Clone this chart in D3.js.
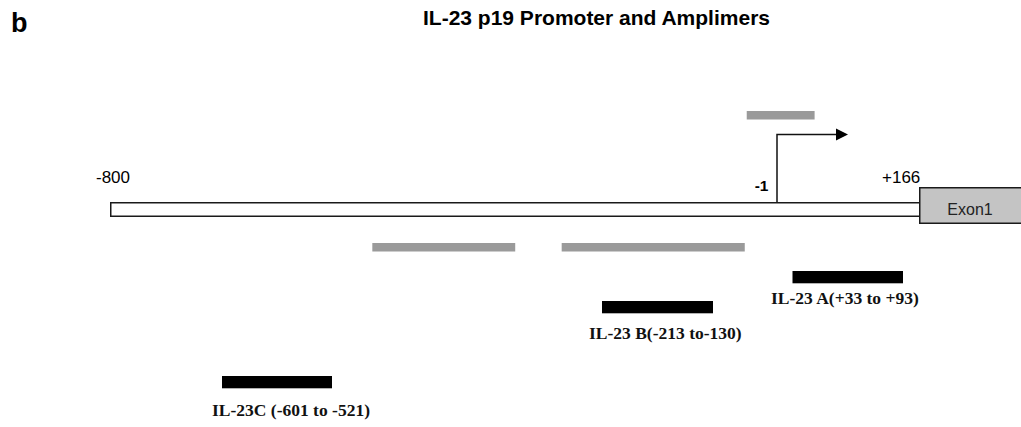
<!DOCTYPE html>
<html>
<head>
<meta charset="utf-8">
<script src="https://cdn.jsdelivr.net/npm/d3@7"></script>
<style>
  html, body { margin: 0; padding: 0; background: #fff; }
  svg { display: block; }
  .sans { font-family: Arial, "Liberation Sans", Helvetica, sans-serif; }
  .serif { font-family: "Times New Roman", "Liberation Serif", Times, serif; font-weight: bold; }
</style>
</head>
<body>
<svg id="map" width="1021" height="427"></svg>
<script>
// Promoter landmarks (bp relative to the transcription start site)
const promoterStart = -800;
const promoterEnd = 166;
const tss = -1;
const promoterLabels = ["-800", "+166"];
const tssLabel = "-1";
const exonLabel = "Exon1";

// qPCR amplimers (black bars)
const ampNames = ["IL-23 A", "IL-23 B", "IL-23C"];
const ampStart = [33, -213, -601];
const ampEnd = [93, -130, -521];
const ampLabels = ["IL-23 A(+33 to +93)", "IL-23 B(-213 to-130)", "IL-23C (-601 to -521)"];

// Additional regions (grey bars)
const greyStart = [-475, -259, -62];
const greyEnd = [-312, -66, 45];

const svg = d3.select("#map");
const W = 1021;

// The map is schematic, not to scale: each landmark gets its own place on the track
const landmarks = [promoterStart, ampStart[2], ampEnd[2], ampStart[1], ampEnd[1], tss, ampStart[0], ampEnd[0], promoterEnd];
const landmarkPx = [110, 222, 332, 602, 713, 777, 792.5, 903, 919];
const x = d3.scaleLinear().domain(landmarks).range(landmarkPx);

// Layout rows
const track = { y: 202.75, h: 13.5 };
const exon = { y: 187.75, h: 35.5 };
const greyRows = [243, 243, 111];
const greyH = 8.5;
const ampRows = [271, 301, 376];
const ampH = 12.3;
const ampLabelY = [303.5, 339, 416];
const ampLabelDx = [-21.5, -13, -10];

// Panel letter and title
svg.append("text").attr("class", "sans")
  .attr("x", 11).attr("y", 31.5)
  .attr("font-size", 27).attr("font-weight", "bold")
  .text("b");

svg.append("text").attr("class", "sans")
  .attr("x", 423).attr("y", 25)
  .attr("font-size", 21).attr("font-weight", "bold")
  .text("IL-23 p19 Promoter and Amplimers");

// Grey regions
svg.append("g").selectAll("rect")
  .data(d3.range(greyStart.length))
  .join("rect")
  .attr("x", i => x(greyStart[i]))
  .attr("width", i => x(greyEnd[i]) - x(greyStart[i]))
  .attr("y", i => greyRows[i])
  .attr("height", greyH)
  .attr("fill", "#9a9a9a");

// Promoter track
svg.append("rect")
  .attr("x", x(promoterStart) + 0.75)
  .attr("y", track.y)
  .attr("width", x(promoterEnd) - x(promoterStart))
  .attr("height", track.h)
  .attr("fill", "#fff")
  .attr("stroke", "#1a1a1a")
  .attr("stroke-width", 1.5);

// Exon 1
svg.append("rect")
  .attr("x", x(promoterEnd) + 0.75)
  .attr("y", exon.y)
  .attr("width", W + 4 - x(promoterEnd))
  .attr("height", exon.h)
  .attr("fill", "#c4c4c4")
  .attr("stroke", "#1a1a1a")
  .attr("stroke-width", 1.5);

svg.append("text").attr("class", "sans")
  .attr("x", 970).attr("y", 215)
  .attr("text-anchor", "middle")
  .attr("font-size", 16)
  .attr("fill", "#222")
  .text(exonLabel);

// Transcription start arrow
const tx = x(tss);
svg.append("path")
  .attr("d", `M${tx},${track.y - 0.75} V134.5 H837`)
  .attr("fill", "none")
  .attr("stroke", "#111")
  .attr("stroke-width", 1.5);
svg.append("path")
  .attr("d", `M836,128.5 L848,134.5 L836,140.5 Z`)
  .attr("fill", "#000");

svg.append("text").attr("class", "sans")
  .attr("x", tx - 8.5).attr("y", 190.5)
  .attr("text-anchor", "end")
  .attr("font-size", 15.5).attr("font-weight", "bold")
  .text(tssLabel);

// Promoter end labels
svg.append("text").attr("class", "sans")
  .attr("x", x(promoterStart) - 14).attr("y", 182.5)
  .attr("font-size", 17)
  .text(promoterLabels[0]);
svg.append("text").attr("class", "sans")
  .attr("x", x(promoterEnd) - 37).attr("y", 182.5)
  .attr("font-size", 17)
  .text(promoterLabels[1]);

// Amplimers
const amp = svg.append("g");
amp.selectAll("rect")
  .data(d3.range(ampNames.length))
  .join("rect")
  .attr("x", i => x(ampStart[i]))
  .attr("width", i => x(ampEnd[i]) - x(ampStart[i]))
  .attr("y", i => ampRows[i])
  .attr("height", ampH)
  .attr("fill", "#000");

amp.selectAll("text")
  .data(d3.range(ampNames.length))
  .join("text")
  .attr("class", "serif")
  .attr("x", i => x(ampStart[i]) + ampLabelDx[i])
  .attr("y", i => ampLabelY[i])
  .attr("font-size", 17.5)
  .attr("fill", "#111")
  .text(i => ampLabels[i]);
</script>
</body>
</html>
